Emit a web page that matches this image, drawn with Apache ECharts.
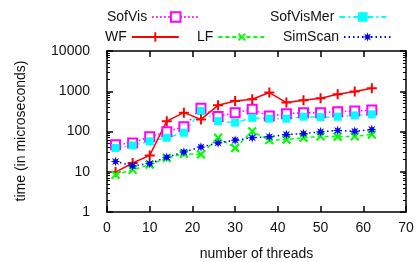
<!DOCTYPE html>
<html>
<head>
<meta charset="utf-8">
<script src="https://cdn.jsdelivr.net/npm/echarts@6/dist/echarts.min.js"></script>
<style>
html, body { margin: 0; padding: 0; background: #fff; }
#chart { width: 419px; height: 262px; }
</style>
</head>
<body>
<div id="chart"></div>
<script>
var threads = [2, 6, 10, 14, 18, 22, 26, 30, 34, 38, 42, 46, 50, 54, 58, 62];
var sofVis = [47, 52, 74, 98, 131, 376, 237, 293, 355, 241, 277, 291, 293, 311, 322, 341];
var sofVisMer = [39, 45, 57, 70, 93, 322, 181, 166, 219, 208, 208, 233, 228, 233, 251, 266];
var wf = [9.8, 16.5, 25.5, 181, 294, 200, 447, 572, 631, 928, 522, 594, 668, 841, 984, 1189];
var lf = [8.4, 11.2, 15, 22, 28, 27, 70, 39, 101, 61, 63, 70, 76, 74, 76, 84];
var simScan = [18, 14, 16, 23, 31, 41, 52, 61, 70, 74, 84, 89, 98, 106, 101, 112];
var minorVals = [];
for (var d = 1; d < 10000; d *= 10) {
	for (var k = 2; k <= 9; k++) minorVals.push(k * d);
}

var font = 'Liberation Sans';
var plusPath = 'path://M4,0h2v4h4v2h-4v4h-2v-4h-4v-2h4z';
var starPath = 'path://M10,5L7.03,5.84L8.54,8.54L5.84,7.03L5,10L4.16,7.03L1.46,8.54L2.97,5.84L0,5L2.97,4.16L1.46,1.46L4.16,2.97L5,0L5.84,2.97L8.54,1.46L7.03,4.16Z';

function pairs(ys) {
	var out = [];
	for (var i = 0; i < threads.length; i++) out.push([threads[i], ys[i]]);
	return out;
}

function legendAt(name, left, top, w) {
	return {
		data: [name], left: left, top: top, padding: 0, align: 'right',
		itemWidth: 47, itemHeight: 12, itemGap: 0,
		textStyle: { fontFamily: font, fontSize: 14, color: '#111', width: w }
	};
}

function yAx(pos, minor) {
	return {
		type: 'log', logBase: 10, min: 1, max: 10000, position: pos, offset: 0,
		axisLine: { show: !minor, lineStyle: { color: '#000', width: 1.5 } },
		axisTick: minor ? { show: true, inside: true, length: 3, customValues: minorVals, lineStyle: { color: '#000', width: 1 } }
			: { show: true, inside: true, length: 6, lineStyle: { color: '#000', width: 1.5 } },
		axisLabel: {
			show: pos == 'left' && !minor, margin: 17, fontFamily: font, fontSize: 14, color: '#111',
			formatter: function(v) { return String(v); }
		},
		splitLine: { show: false }
	};
}

var myChart = echarts.init(document.getElementById('chart'));
var option = {
	animation: false,
	legend: [
		legendAt('SofVis', 107, 10, 51),
		legendAt('SofVisMer', 270, 10, 83),
		legendAt('WF', 105, 30, 31),
		legendAt('LF', 197, 30, 24),
		legendAt('SimScan', 283, 30, 70)
	],
	grid: { left: 107, right: 13, top: 51, bottom: 50, outerBoundsMode: 'none', containLabel: false },
	xAxis: [{
		type: 'value', min: 0, max: 70, interval: 10, position: 'bottom',
		name: 'number of threads', nameLocation: 'middle', nameGap: 35,
		nameTextStyle: { fontFamily: font, fontSize: 14, color: '#111' },
		axisLine: { lineStyle: { color: '#000', width: 1.5 } },
		axisTick: { inside: true, length: 6, lineStyle: { color: '#000', width: 1.5 } },
		axisLabel: { margin: 9, fontFamily: font, fontSize: 14, color: '#111' },
		splitLine: { show: false }
	}, {
		type: 'value', min: 0, max: 70, interval: 10, position: 'top',
		axisLine: { lineStyle: { color: '#000', width: 1.5 } },
		axisTick: { inside: true, length: 6, lineStyle: { color: '#000', width: 1.5 } },
		axisLabel: { show: false },
		splitLine: { show: false }
	}],
	yAxis: [yAx('left', false), yAx('left', true), yAx('right', false), yAx('right', true)],
	series: [{
		name: 'SofVis', type: 'line', data: pairs(sofVis),
		symbol: 'emptyRect', symbolSize: 9,
		lineStyle: { color: '#ff00ff', width: 1.5, type: [1.5, 2.5] },
		itemStyle: { color: '#ff00ff', borderWidth: 1.5 }
	}, {
		name: 'SofVisMer', type: 'line', data: pairs(sofVisMer),
		symbol: 'rect', symbolSize: 8,
		lineStyle: { color: '#00ffff', width: 1.5, type: [6, 3, 2, 3] },
		itemStyle: { color: '#00ffff' }
	}, {
		name: 'WF', type: 'line', data: pairs(wf),
		symbol: plusPath, symbolSize: 10,
		lineStyle: { color: '#ff0000', width: 1.5 },
		itemStyle: { color: '#ff0000' }
	}, {
		name: 'LF', type: 'line', data: pairs(lf),
		symbol: plusPath, symbolSize: 11, symbolRotate: 45,
		lineStyle: { color: '#00ff00', width: 1.5, type: [4, 3] },
		itemStyle: { color: '#00ff00' }
	}, {
		name: 'SimScan', type: 'line', data: pairs(simScan),
		symbol: starPath, symbolSize: 10,
		lineStyle: { color: '#0000ff', width: 1.5, type: [1.5, 3] },
		itemStyle: { color: '#0000ff' }
	}],
	graphic: [{
		type: 'text', left: 14, top: 'middle',
		rotation: Math.PI / 2,
		style: { text: 'time (in microseconds)', fontFamily: font, fontSize: 14, fill: '#111' }
	}]
};
myChart.setOption(option);
</script>
</body>
</html>
